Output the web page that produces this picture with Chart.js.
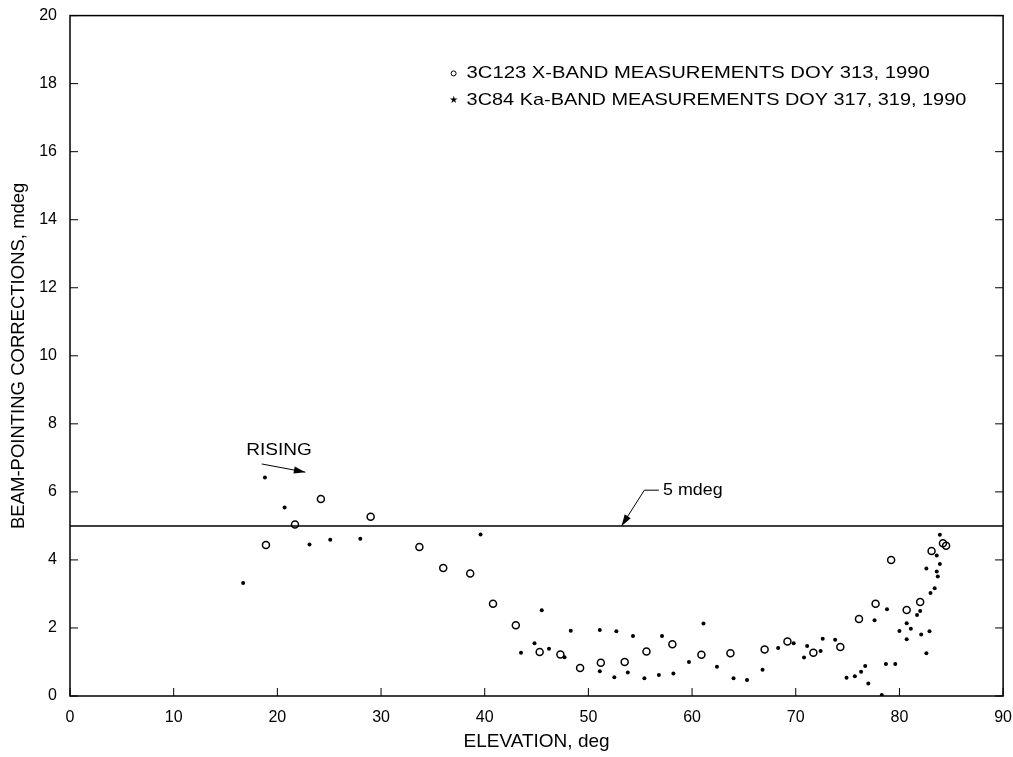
<!DOCTYPE html>
<html>
<head>
<meta charset="utf-8">
<script src="https://cdn.jsdelivr.net/npm/chart.js@4"></script>
<style>
  html, body { margin: 0; padding: 0; background: #fff; overflow: hidden; }
  #wrap { position: relative; top: -7px; width: 1024px; height: 764px; }
</style>
</head>
<body>
<div id="wrap"><canvas id="beamChart"></canvas></div>
<script>
// 3C123 X-band, open circles
let xbandElev = [18.9, 21.7, 24.2, 29.0, 33.7, 36.0, 38.6, 40.8, 43.0, 45.3, 47.3, 49.2, 51.2, 53.5, 55.6,
                 58.1, 60.9, 63.7, 67.0, 69.2, 71.7, 74.3, 76.1, 77.7, 79.2, 80.7, 82.0, 83.1, 84.2, 84.5];
let xbandCorr = [4.44, 5.04, 5.79, 5.27, 4.38, 3.76, 3.60, 2.71, 2.08, 1.29, 1.22, 0.82, 0.98, 1.00, 1.31,
                 1.52, 1.21, 1.26, 1.37, 1.60, 1.27, 1.44, 2.26, 2.71, 4.00, 2.53, 2.76, 4.26, 4.49, 4.42];

// 3C84 Ka-band, filled dots
let kabandElev = [16.7, 18.8, 20.7, 23.1, 25.1, 28.0, 39.6, 43.5, 44.8, 45.5, 46.2, 47.7, 48.3, 51.1, 51.1,
                  52.5, 52.7, 53.8, 54.3, 55.4, 56.8, 57.1, 58.2, 59.7, 61.1, 62.4, 64.0, 65.3, 66.8, 68.3,
                  69.8, 70.8, 71.1, 72.4, 72.6, 73.8, 74.9, 75.7, 76.3, 76.7, 77.0, 77.6, 78.3, 78.7, 78.8,
                  79.6, 80.0, 80.7, 80.7, 81.1, 81.7, 82.0, 82.1, 82.6, 82.6, 82.9, 83.0, 83.4, 83.6, 83.6,
                  83.7, 83.9, 83.9];
let kabandCorr = [3.32, 6.42, 5.54, 4.45, 4.59, 4.62, 4.75, 1.27, 1.55, 2.52, 1.39, 1.14, 1.92, 1.94, 0.73,
                  0.55, 1.90, 0.69, 1.76, 0.52, 0.62, 1.76, 0.66, 1.00, 2.13, 0.86, 0.52, 0.47, 0.77, 1.41,
                  1.55, 1.13, 1.47, 1.32, 1.68, 1.65, 0.54, 0.58, 0.71, 0.88, 0.37, 2.23, 0.03, 0.94, 2.55,
                  0.94, 1.91, 2.14, 1.67, 1.98, 2.38, 2.50, 1.81, 1.26, 3.75, 1.90, 3.03, 3.17, 3.66, 4.13,
                  3.51, 3.88, 4.74];

let limitElev = [0, 90];
let limitCorr = [5, 5];

let xTicks = [0, 10, 20, 30, 40, 50, 60, 70, 80, 90];
let yTicks = [0, 2, 4, 6, 8, 10, 12, 14, 16, 18, 20];

let legendLabels = ['3C123 X-BAND MEASUREMENTS DOY 313, 1990', '3C84 Ka-BAND MEASUREMENTS DOY 317, 319, 1990'];

function toPoints(xs, ys) {
    return xs.map((x, i) => ({ x: x, y: ys[i] }));
}

const FONT = '"Liberation Sans", Arial, sans-serif';

function arrow(ctx, x1, y1, x2, y2, head) {
    ctx.beginPath();
    ctx.moveTo(x1, y1);
    ctx.lineTo(x2, y2);
    ctx.stroke();
    let a = Math.atan2(y2 - y1, x2 - x1);
    ctx.beginPath();
    ctx.moveTo(x2, y2);
    ctx.lineTo(x2 - head * Math.cos(a - 0.3), y2 - head * Math.sin(a - 0.3));
    ctx.lineTo(x2 - head * Math.cos(a + 0.3), y2 - head * Math.sin(a + 0.3));
    ctx.closePath();
    ctx.fill();
}

// wider text, the scanned lettering is broader than Liberation Sans
function wideText(ctx, text, x, y, sx) {
    ctx.save();
    ctx.translate(x, y);
    ctx.scale(sx, 1);
    ctx.fillText(text, 0, 0);
    ctx.restore();
}

// frame, inward ticks, legend and annotations
const extras = {
    id: 'extras',
    afterDraw(chart) {
        let ctx = chart.ctx;
        let area = chart.chartArea;
        let xs = chart.scales.x, ys = chart.scales.y;
        ctx.save();
        ctx.strokeStyle = '#000';
        ctx.fillStyle = '#000';
        ctx.lineWidth = 1.5;
        ctx.strokeRect(area.left, area.top, area.right - area.left, area.bottom - area.top);

        ctx.lineWidth = 1;
        ctx.beginPath();
        yTicks.forEach(v => {
            let py = ys.getPixelForValue(v);
            ctx.moveTo(area.left, py); ctx.lineTo(area.left + 8, py);
            ctx.moveTo(area.right, py); ctx.lineTo(area.right - 8, py);
        });
        xTicks.forEach(v => {
            let px = xs.getPixelForValue(v);
            ctx.moveTo(px, area.bottom); ctx.lineTo(px, area.bottom - 8);
        });
        ctx.stroke();

        // legend
        ctx.font = '17px ' + FONT;
        ctx.textBaseline = 'middle';
        ctx.textAlign = 'left';
        let lx = xs.getPixelForValue(37.0);
        let ly1 = ys.getPixelForValue(18.3);
        let ly2 = ys.getPixelForValue(17.5);
        wideText(ctx, legendLabels[0], lx + 13, ly1, 1.19);
        wideText(ctx, legendLabels[1], lx + 13, ly2, 1.17);
        ctx.lineWidth = 1;
        ctx.beginPath();
        ctx.arc(lx, ly1, 2.5, 0, Math.PI * 2);
        ctx.stroke();
        ctx.font = '10px "DejaVu Sans"';
        ctx.textAlign = 'center';
        ctx.fillText('\u2605', lx, ly2);

        // RISING
        ctx.font = '17px ' + FONT;
        ctx.textAlign = 'left';
        wideText(ctx, 'RISING', xs.getPixelForValue(17.0), ys.getPixelForValue(7.22), 1.12);
        ctx.lineWidth = 1;
        arrow(ctx, xs.getPixelForValue(18.5), ys.getPixelForValue(6.82),
              xs.getPixelForValue(22.7), ys.getPixelForValue(6.58), 12);

        // 5 mdeg
        let tx = xs.getPixelForValue(55.4), ty = ys.getPixelForValue(6.05);
        ctx.beginPath();
        ctx.moveTo(tx, ty);
        ctx.lineTo(xs.getPixelForValue(56.8), ty);
        ctx.stroke();
        arrow(ctx, tx, ty, xs.getPixelForValue(53.2), ys.getPixelForValue(5.0), 12);
        wideText(ctx, '5 mdeg', xs.getPixelForValue(57.2), ty, 1.05);
        ctx.restore();
    }
};

let ctx = document.getElementById('beamChart').getContext('2d');

let beamChart = new Chart(ctx, {
    type: 'scatter',
    data: {
        datasets: [{
            label: '5 mdeg',
            type: 'line',
            data: toPoints(limitElev, limitCorr),
            borderColor: '#000',
            borderWidth: 1.5,
            pointRadius: 0,
            order: 3
        }, {
            label: legendLabels[0],
            data: toPoints(xbandElev, xbandCorr),
            pointStyle: 'circle',
            pointRadius: 3.5,
            borderColor: '#000',
            borderWidth: 1.5,
            backgroundColor: 'rgba(255,255,255,0)',
            order: 2
        }, {
            label: legendLabels[1],
            data: toPoints(kabandElev, kabandCorr),
            pointStyle: 'circle',
            pointRadius: 2,
            borderWidth: 0,
            backgroundColor: '#000',
            order: 1
        }]
    },
    options: {
        responsive: true,
        maintainAspectRatio: false,
        animation: false,
        layout: { padding: { top: 8, right: 0, left: 0, bottom: 0 } },
        plugins: {
            legend: { display: false },
            tooltip: { enabled: false }
        },
        scales: {
            x: {
                type: 'linear',
                min: 0,
                max: 90,
                afterBuildTicks: s => { s.ticks = xTicks.map(v => ({ value: v })); },
                afterFit: s => { s.height = 61; },
                grid: { display: false, drawTicks: false },
                border: { display: false },
                ticks: { color: '#000', padding: 12, maxRotation: 0, font: { family: FONT, size: 16 } },
                title: {
                    display: true,
                    text: 'ELEVATION, deg',
                    color: '#000',
                    padding: { top: 0, bottom: 4 },
                    font: { family: FONT, size: 19 }
                }
            },
            y: {
                type: 'linear',
                min: 0,
                max: 20,
                afterBuildTicks: s => { s.ticks = yTicks.map(v => ({ value: v })); },
                afterFit: s => { s.width = 70; },
                grid: { display: false, drawTicks: false },
                border: { display: false },
                ticks: { color: '#000', padding: 13, font: { family: FONT, size: 16 } },
                title: {
                    display: true,
                    text: 'BEAM-POINTING CORRECTIONS, mdeg',
                    color: '#000',
                    padding: { top: 8, bottom: 0 },
                    font: { family: FONT, size: 18.5 }
                }
            }
        }
    },
    plugins: [extras]
});
</script>
</body>
</html>
